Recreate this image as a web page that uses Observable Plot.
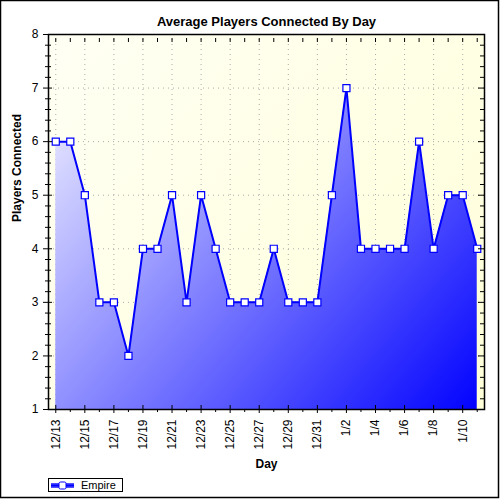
<!DOCTYPE html>
<html>
<head>
<meta charset="utf-8">
<script src="https://cdn.jsdelivr.net/npm/d3@7"></script>
<script src="https://cdn.jsdelivr.net/npm/@observablehq/plot@0.6"></script>
<style>
  body { margin: 0; background: white; }
  #chart svg { display: block; font-family: "Liberation Sans", Arial, sans-serif; }
</style>
</head>
<body>
<div id="chart"></div>
<script>
// days shown on the x axis and the average players for each
const days = ["12/13", "12/14", "12/15", "12/16", "12/17", "12/18", "12/19", "12/20", "12/21", "12/22",
  "12/23", "12/24", "12/25", "12/26", "12/27", "12/28", "12/29", "12/30", "12/31", "1/1",
  "1/2", "1/3", "1/4", "1/5", "1/6", "1/7", "1/8", "1/9", "1/10", "1/11"]
const empire = [6, 6, 5, 3, 3, 2, 4, 4, 5, 3,
  5, 4, 3, 3, 3, 4, 3, 3, 3, 5,
  7, 4, 4, 4, 4, 6, 4, 5, 5, 4]
const yTicks = [1, 2, 3, 4, 5, 6, 7, 8]

const data = days.map((d, i) => ({i, day: d, players: empire[i]}))
const dayIdx = days.map((d, i) => i)
const majorX = dayIdx.filter(i => i % 2 === 0)
const minorY = d3.range(1, 8.001, 0.2).map(v => Math.round(v * 10) / 10)

function draw() {
  const plot = Plot.plot({
    width: 500,
    height: 500,
    marginTop: 34,
    marginLeft: 48,
    marginRight: 16,
    marginBottom: 91,
    style: {fontFamily: "'Liberation Sans', Arial, sans-serif", fontSize: "12px", color: "black", background: "white"},
    x: {domain: [-0.5, 29.5], axis: null},
    y: {domain: [1, 8], axis: null},
    marks: [
      Plot.frame({fill: "url(#bgGrad)", stroke: "none"}),
      // dotted grid
      Plot.gridY(yTicks.slice(1, -1), {stroke: "#aaa", strokeOpacity: 1, strokeDasharray: "1,4"}),
      Plot.gridX(majorX, {stroke: "#aaa", strokeOpacity: 1, strokeDasharray: "1,4"}),
      // filled area + line + markers
      Plot.areaY(data, {x: "i", y1: 1, y2: "players", fill: "url(#areaGrad)"}),
      Plot.line(data, {x: "i", y: "players", stroke: "#0000ff", strokeWidth: 2}),
      Plot.dot(data, {x: "i", y: "players", symbol: "square", r: 4, fill: "white", stroke: "#0000ff", strokeWidth: 1.2}),
      Plot.frame({stroke: "black", strokeWidth: 1.5}),
      // bottom ticks
      Plot.ruleX(majorX, {y1: 1, y2: 1, insetTop: -4, insetBottom: -4, stroke: "black"}),
      Plot.ruleX(dayIdx.filter(i => i % 2), {y1: 1, y2: 1, insetBottom: -3, stroke: "black"}),
      // top ticks (inward)
      Plot.ruleX(dayIdx, {y1: 8, y2: 8, insetTop: 0, insetBottom: -4, stroke: "black", dy: 4}),
      // left ticks
      Plot.ruleY(yTicks, {x1: -0.5, x2: -0.5, insetLeft: -5, insetRight: -4, stroke: "black"}),
      Plot.ruleY(minorY.filter(v => !yTicks.includes(v)), {x1: -0.5, x2: -0.5, insetLeft: -3, insetRight: -3, stroke: "black"}),
      // right ticks (inward)
      Plot.ruleY(yTicks, {x1: 29.5, x2: 29.5, insetLeft: -6, stroke: "black"}),
      Plot.ruleY(minorY.filter(v => !yTicks.includes(v)), {x1: 29.5, x2: 29.5, insetLeft: -4, stroke: "black"}),
      // tick labels
      Plot.axisY(yTicks, {anchor: "left", tickSize: 0, tickPadding: 10, fontSize: 12, label: null,
        tickFormat: d => String(d)}),
      Plot.axisX(majorX, {anchor: "bottom", tickSize: 0, tickPadding: 10, tickRotate: -90, fontSize: 12,
        label: null, tickFormat: i => days[i]}),
      // titles
      Plot.text(["Average Players Connected By Day"], {frameAnchor: "top", dy: -18, fontWeight: "bold", fontSize: 13}),
      Plot.text(["Players Connected"], {frameAnchor: "left", dx: -31, rotate: -90, fontWeight: "bold", fontSize: 12}),
      Plot.text(["Day"], {frameAnchor: "bottom", dy: 58, fontWeight: "bold", fontSize: 12})
    ]
  })

  const svg = d3.select(plot)
  const [x0, x1] = plot.scale("x").range
  const [yb, yt] = plot.scale("y").range
  const defs = svg.insert("defs", ":first-child")
  const bg = defs.append("linearGradient").attr("id", "bgGrad").attr("gradientUnits", "userSpaceOnUse")
    .attr("x1", x0).attr("y1", yt).attr("x2", x1).attr("y2", yb)
  bg.append("stop").attr("offset", 0).attr("stop-color", "#fffff4")
  bg.append("stop").attr("offset", 1).attr("stop-color", "#ffffd8")
  const ag = defs.append("linearGradient").attr("id", "areaGrad").attr("gradientUnits", "userSpaceOnUse")
    .attr("x1", x0).attr("y1", yt).attr("x2", x1).attr("y2", yb)
  ag.append("stop").attr("offset", 0).attr("stop-color", "#ffffff")
  ag.append("stop").attr("offset", 1).attr("stop-color", "#0000ff")

  // outer border
  svg.append("rect").attr("x", 0.5).attr("y", 0.5).attr("width", 498).attr("height", 497)
    .attr("fill", "none").attr("stroke", "black").attr("stroke-width", 1.5)

  // legend
  const lg = svg.append("g").attr("transform", "translate(48,478)")
  lg.append("rect").attr("x", 0.5).attr("y", 0.5).attr("width", 74).attr("height", 13)
    .attr("fill", "white").attr("stroke", "black")
  lg.append("rect").attr("x", 3).attr("y", 5).attr("width", 23).attr("height", 5).attr("fill", "#5050ff")
  lg.append("line").attr("x1", 3).attr("x2", 26).attr("y1", 7.5).attr("y2", 7.5)
    .attr("stroke", "#0000ff").attr("stroke-width", 2)
  lg.append("rect").attr("x", 11).attr("y", 4).attr("width", 7).attr("height", 7).attr("rx", 1.5)
    .attr("fill", "white").attr("stroke", "#0000ff")
  lg.append("text").attr("x", 33).attr("y", 11).attr("font-size", 11)
    .attr("text-anchor", "start").text("Empire")

  const div = document.querySelector("#chart")
  div.innerText = ''
  div.append(plot)
}
draw()
</script>
</body>
</html>
